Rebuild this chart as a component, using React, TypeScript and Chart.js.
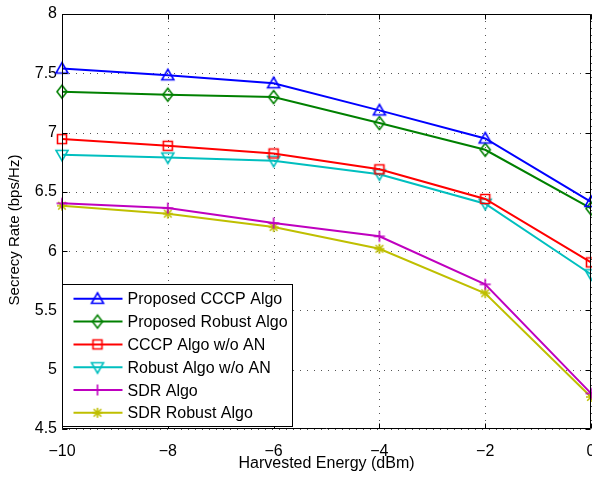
import React, { useEffect, useRef } from 'react';
import { Chart, registerables } from 'chart.js';

Chart.register(...registerables);

// ---- data ----
const harvestedEnergy = [-10, -8, -6, -4, -2, 0];
const proposedCCCP = [7.54, 7.483, 7.416, 7.187, 6.95, 6.415];
const proposedRobust = [7.345, 7.319, 7.299, 7.08, 6.855, 6.36];
const cccpWithoutAN = [6.945, 6.888, 6.824, 6.69, 6.44, 5.905];
const robustWithoutAN = [6.812, 6.79, 6.762, 6.648, 6.4, 5.805];
const sdrAlgo = [6.403, 6.363, 6.237, 6.125, 5.72, 4.8];
const sdrRobust = [6.383, 6.316, 6.203, 6.02, 5.645, 4.77];

const seriesNames = [
  'Proposed CCCP Algo',
  'Proposed Robust Algo',
  'CCCP Algo w/o AN',
  'Robust Algo w/o AN',
  'SDR Algo',
  'SDR Robust Algo',
];
const seriesValues = [proposedCCCP, proposedRobust, cccpWithoutAN, robustWithoutAN, sdrAlgo, sdrRobust];

const xTickValues = [-10, -8, -6, -4, -2, 0];
const yTickValues = [4.5, 5, 5.5, 6, 6.5, 7, 7.5, 8];
const xTitle = 'Harvested Energy (dBm)';
const yTitle = 'Secrecy Rate (bps/Hz)';

// ---- styles ----
const seriesColors = ['#0000ff', '#008000', '#ff0000', '#00bfbf', '#bf00bf', '#bfbf00'];
const seriesMarkers = ['triUp', 'diamond', 'square', 'triDown', 'plus', 'star'];
const FONT = '"Liberation Sans", Arial, Helvetica, sans-serif';

function makeMarker(shape: string, color: string): HTMLCanvasElement {
  const c = document.createElement('canvas');
  c.width = 20;
  c.height = 20;
  const ctx = c.getContext('2d') as CanvasRenderingContext2D;
  ctx.strokeStyle = color;
  ctx.lineWidth = 1.6;
  ctx.translate(10, 10);
  ctx.beginPath();
  switch (shape) {
    case 'triUp':
      ctx.moveTo(0, -6);
      ctx.lineTo(6, 4.5);
      ctx.lineTo(-6, 4.5);
      ctx.closePath();
      break;
    case 'triDown':
      ctx.moveTo(0, 6);
      ctx.lineTo(6, -4.5);
      ctx.lineTo(-6, -4.5);
      ctx.closePath();
      break;
    case 'diamond':
      ctx.moveTo(0, -6.5);
      ctx.lineTo(5, 0);
      ctx.lineTo(0, 6.5);
      ctx.lineTo(-5, 0);
      ctx.closePath();
      break;
    case 'square':
      ctx.rect(-4.5, -4.5, 9, 9);
      break;
    case 'plus':
      ctx.moveTo(-5.5, 0);
      ctx.lineTo(5.5, 0);
      ctx.moveTo(0, -5.5);
      ctx.lineTo(0, 5.5);
      break;
    case 'star':
      ctx.moveTo(-5, 0);
      ctx.lineTo(5, 0);
      ctx.moveTo(0, -5);
      ctx.lineTo(0, 5);
      ctx.moveTo(-3.8, -3.8);
      ctx.lineTo(3.8, 3.8);
      ctx.moveTo(-3.8, 3.8);
      ctx.lineTo(3.8, -3.8);
      break;
  }
  ctx.stroke();
  return c;
}

const fmtTick = (v: number | string) => String(v).replace('-', '\u2212');

export default function App() {
  const canvasRef = useRef<HTMLCanvasElement | null>(null);

  useEffect(() => {
    document.body.style.margin = '0';
    const canvas = canvasRef.current;
    if (!canvas) return;
    const markers = seriesMarkers.map((m, i) => makeMarker(m, seriesColors[i]));

    const framePlugin = {
      id: 'matlabFrame',
      beforeDatasetsDraw(chart: any) {
        const { ctx, chartArea: a, scales } = chart;
        const xs = scales.x;
        const ys = scales.y;
        ctx.save();
        ctx.strokeStyle = '#555';
        ctx.lineWidth = 1;
        ctx.setLineDash([1, 6]);
        ctx.beginPath();
        for (const v of xTickValues) {
          const px = Math.round(xs.getPixelForValue(v)) + 0.5;
          ctx.moveTo(px, a.top);
          ctx.lineTo(px, a.bottom);
        }
        for (const v of yTickValues) {
          const py = Math.round(ys.getPixelForValue(v)) + 0.5;
          ctx.moveTo(a.left, py);
          ctx.lineTo(a.right, py);
        }
        ctx.stroke();
        ctx.restore();
      },
      afterDatasetsDraw(chart: any) {
        const { ctx, chartArea: a, scales } = chart;
        const xs = scales.x;
        const ys = scales.y;
        const L = Math.round(a.left) + 0.5;
        const R = Math.round(a.right) - 0.5;
        const T = Math.round(a.top) + 0.5;
        const B = Math.round(a.bottom) - 0.5;
        ctx.save();
        // box + inward ticks
        ctx.strokeStyle = '#000';
        ctx.lineWidth = 1;
        ctx.setLineDash([]);
        ctx.beginPath();
        ctx.rect(L, T, R - L, B - T);
        const tl = 5;
        for (const v of xTickValues) {
          const px = Math.round(xs.getPixelForValue(v)) + 0.5;
          ctx.moveTo(px, B);
          ctx.lineTo(px, B - tl);
          ctx.moveTo(px, T);
          ctx.lineTo(px, T + tl);
        }
        for (const v of yTickValues) {
          const py = Math.round(ys.getPixelForValue(v)) + 0.5;
          ctx.moveTo(L, py);
          ctx.lineTo(L + tl, py);
          ctx.moveTo(R, py);
          ctx.lineTo(R - tl, py);
        }
        ctx.stroke();

        // legend
        const lw = 230;
        const lh = 142;
        const lx = L;
        const ly = B - 2 - lh;
        ctx.fillStyle = '#fff';
        ctx.fillRect(lx, ly, lw, lh);
        ctx.strokeStyle = '#000';
        ctx.lineWidth = 1;
        ctx.strokeRect(lx, ly, lw, lh);
        ctx.font = `16px ${FONT}`;
        ctx.textAlign = 'left';
        ctx.textBaseline = 'alphabetic';
        seriesNames.forEach((name, i) => {
          const ry = ly + 14.3 + i * 22.8;
          ctx.strokeStyle = seriesColors[i];
          ctx.lineWidth = 2;
          ctx.beginPath();
          ctx.moveTo(lx + 11, ry);
          ctx.lineTo(lx + 60, ry);
          ctx.stroke();
          const m = markers[i];
          ctx.drawImage(m, lx + 35 - m.width / 2, ry - m.height / 2);
          ctx.fillStyle = '#000';
          ctx.fillText(name, lx + 65, ry + 5.5);
        });

        // axis titles
        ctx.fillStyle = '#000';
        ctx.font = `16px ${FONT}`;
        ctx.textAlign = 'center';
        ctx.textBaseline = 'alphabetic';
        ctx.fillText(xTitle, (a.left + a.right) / 2, 468);
        ctx.translate(15, 230);
        ctx.rotate(-Math.PI / 2);
        ctx.font = `15px ${FONT}`;
        ctx.textBaseline = 'middle';
        ctx.fillText(yTitle, 0, 0);
        ctx.restore();
      },
    };

    const chart = new Chart(canvas, {
      type: 'line',
      data: {
        datasets: seriesNames.map((name, i) => ({
          label: name,
          data: harvestedEnergy.map((x, j) => ({ x, y: seriesValues[i][j] })),
          borderColor: seriesColors[i],
          backgroundColor: seriesColors[i],
          borderWidth: 2,
          pointStyle: markers[i] as any,
          pointRadius: 6,
          pointHoverRadius: 6,
          tension: 0,
          fill: false,
          clip: false as any,
        })),
      },
      options: {
        animation: false,
        responsive: false,
        devicePixelRatio: 1,
        events: [],
        layout: { autoPadding: false, padding: { top: 14, right: 1, left: 0, bottom: 0 } },
        plugins: {
          legend: { display: false },
          tooltip: { enabled: false },
        },
        scales: {
          x: {
            type: 'linear',
            min: -10,
            max: 0,
            grid: { display: false, drawTicks: false },
            border: { display: false },
            afterBuildTicks: (s: any) => {
              s.ticks = xTickValues.map((v) => ({ value: v }));
            },
            afterFit: (s: any) => {
              s.height = 48;
              s.paddingLeft = 0;
              s.paddingRight = 0;
            },
            ticks: {
              autoSkip: false,
              maxRotation: 0,
              padding: 13,
              color: '#000',
              font: { family: FONT, size: 16 },
              callback: (v: any) => fmtTick(v),
            },
          },
          y: {
            type: 'linear',
            min: 4.5,
            max: 8,
            grid: { display: false, drawTicks: false },
            border: { display: false },
            afterBuildTicks: (s: any) => {
              s.ticks = yTickValues.map((v) => ({ value: v }));
            },
            afterFit: (s: any) => {
              s.width = 62;
              s.paddingTop = 0;
              s.paddingBottom = 0;
            },
            ticks: {
              autoSkip: false,
              padding: 5,
              color: '#000',
              font: { family: FONT, size: 16 },
              callback: (v: any) => fmtTick(v),
            },
          },
        },
      },
      plugins: [framePlugin],
    });
    return () => chart.destroy();
  }, []);

  return (
    <div style={{ width: 592, height: 477 }}>
      <canvas ref={canvasRef} width={592} height={477} style={{ display: 'block', width: 592, height: 477 }} />
    </div>
  );
}
